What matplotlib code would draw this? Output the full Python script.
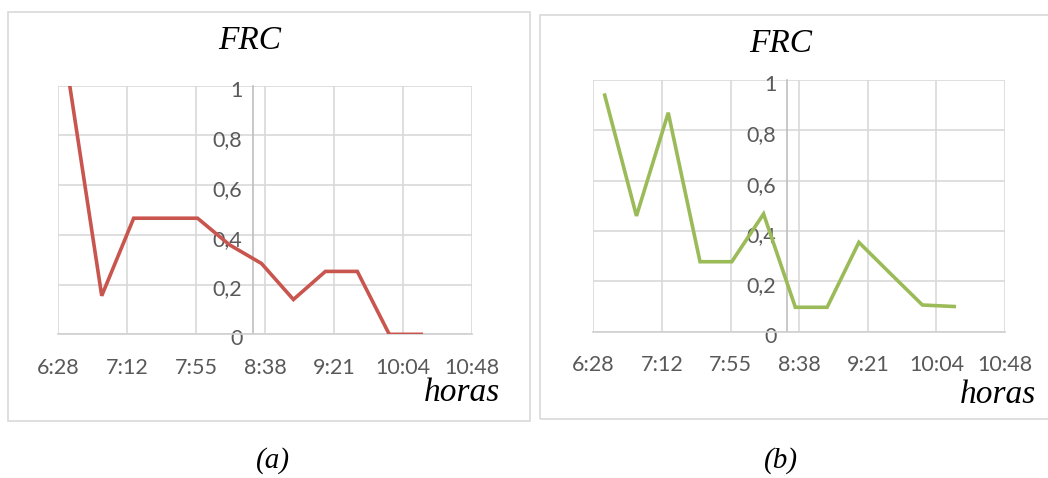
"""FRC vs horas, two Excel-style panels (a) and (b)."""
import matplotlib
matplotlib.use('Agg')
import matplotlib.pyplot as plt
from matplotlib.patches import Rectangle
from matplotlib.ticker import MultipleLocator, FuncFormatter
from matplotlib.transforms import ScaledTranslation

# ── Data ──────────────────────────────────────────────────────────────────────
horas = ['6:36', '6:56', '7:16', '7:36', '7:56', '8:16',
         '8:36', '8:56', '9:16', '9:36', '9:56', '10:16']
frc_a = [1.0, 0.155, 0.467, 0.467, 0.467, 0.36, 0.285, 0.14, 0.253, 0.253, 0.0, 0.0]
frc_b = [0.94, 0.46, 0.87, 0.278, 0.278, 0.468, 0.097, 0.097, 0.355, 0.23, 0.106, 0.1]
y_ticks = [0, 0.2, 0.4, 0.6, 0.8, 1.0]
y_labels = ['0', '0,2', '0,4', '0,6', '0,8', '1']
captions = ['(a)', '(b)']


def to_min(s):
    h, m = s.split(':')
    return int(h) * 60 + int(m)


def fmt_time(v, pos):
    v = int(v + 1e-6)
    return f'{v // 60}:{v % 60:02d}'


x = [to_min(h) for h in horas]

C_A = '#C9554F'
C_B = '#9BBB59'
GRID = '#D9D9D9'
TXT = '#595959'
SERIF = 'Liberation Serif'

fig = plt.figure(figsize=(10.48, 4.78), dpi=100)
fig.patch.set_facecolor('white')

# panel frames
fig.add_artist(Rectangle((0.0076, 0.1192), 0.498, 0.8556, transform=fig.transFigure,
                         fill=False, edgecolor='#D9D9D9', linewidth=1.2))
fig.add_artist(Rectangle((0.5153, 0.1234), 0.49, 0.845, transform=fig.transFigure,
                         fill=False, edgecolor='#D9D9D9', linewidth=1.2))

panels = [
    (frc_a, C_A, [0.0556, 0.3006, 0.3951, 0.5201], (0.2385, 0.915), (0.477, 0.178), (0.2605, 0.037)),
    (frc_b, C_B, [0.5661, 0.3061, 0.3929, 0.5265], (0.745, 0.909), (0.9885, 0.174), (0.745, 0.037)),
]

shift = ScaledTranslation(0, -3 / 100, fig.dpi_scale_trans)

for i, (vals, col, rect, tpos, hpos, cpos) in enumerate(panels):
    ax = fig.add_axes(rect)
    ax.plot(x, vals, color=col, linewidth=2.6, solid_joinstyle='miter', zorder=3)

    ax.set_xlim(388.8, 648)
    ax.set_ylim(0, 1)
    ax.xaxis.set_major_locator(MultipleLocator(43.2))
    ax.xaxis.set_major_formatter(FuncFormatter(fmt_time))
    ax.set_yticks(y_ticks)
    ax.set_yticklabels(y_labels)

    ax.grid(True, color=GRID, linewidth=1.2, zorder=0)
    ax.set_axisbelow(True)
    for s in ['top', 'right']:
        ax.spines[s].set_visible(False)
    ax.spines['bottom'].set_color('#D0D0D0')
    ax.spines['bottom'].set_linewidth(1.2)
    ax.spines['left'].set_position(('data', 511))
    ax.spines['left'].set_color('#BFBFBF')
    ax.spines['left'].set_linewidth(1.2)

    ax.tick_params(axis='both', length=0, labelsize=15.5, labelcolor=TXT)
    ax.tick_params(axis='x', pad=17)
    ax.tick_params(axis='y', pad=8)
    for lab in ax.get_xticklabels() + ax.get_yticklabels():
        lab.set_fontfamily('Lato')
    for lab in ax.get_yticklabels():
        lab.set_transform(lab.get_transform() + shift)

    fig.text(tpos[0], tpos[1], 'FRC', ha='center', va='center',
             fontsize=24, style='italic', family=SERIF)
    fig.text(hpos[0], hpos[1], 'horas', ha='right', va='center',
             fontsize=24, style='italic', family=SERIF)
    fig.text(cpos[0], cpos[1], captions[i], ha='center', va='center',
             fontsize=21, style='italic', family=SERIF)

fig.savefig('out.png', dpi=100, facecolor='white')
